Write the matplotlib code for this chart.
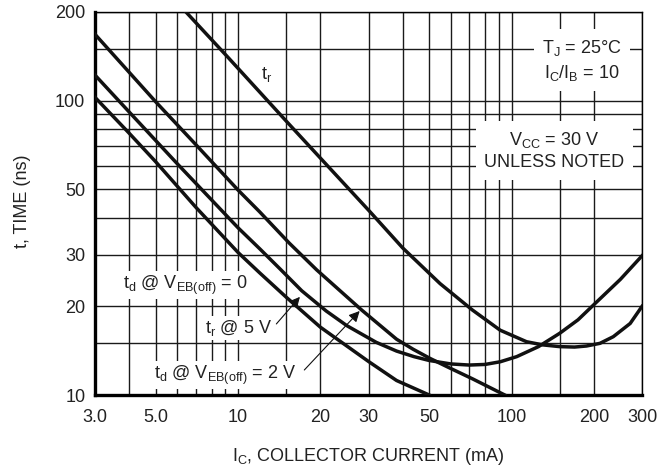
import matplotlib
matplotlib.use("Agg")
import matplotlib.pyplot as plt

plt.rcParams['font.family'] = ['Liberation Sans', 'DejaVu Sans']
plt.rcParams['mathtext.default'] = 'regular'

# curve data (IC in mA, time in ns)
tr_x = [6.44, 9.21, 15.4, 30.4, 40, 54.8, 71.9, 90.9, 113.5, 130, 150, 170, 188, 210.6, 235.6, 271.6, 300]
tr_y = [200.4, 140, 83, 41.9, 31.6, 23.9, 19.45, 16.6, 15.17, 14.8, 14.6, 14.55, 14.67, 14.98, 15.78, 17.5, 20.0]

tr5_x = [3, 4, 6, 10, 12, 14.25, 17.1, 21, 25, 32, 38, 44, 50, 60, 70, 80, 91, 104.5, 125.5, 150, 175, 197, 250, 300]
tr5_y = [122.1, 91.5, 61.0, 37.0, 31.4, 26.8, 22.6, 19.3, 17.2, 15.1, 14.1, 13.5, 13.1, 12.75, 12.64, 12.7, 12.97, 13.5, 14.6, 16.2, 18.0, 20.0, 24.7, 29.7]

td2_x = [3, 5, 7, 10, 12, 15.4, 19.4, 28.3, 38, 43.7, 50.3, 60, 72, 94.5]
td2_y = [168, 99.1, 71.0, 49.7, 41.9, 32.8, 26.6, 19.45, 15.47, 14.3, 13.32, 12.3, 11.35, 10.0]

td0_x = [3, 4, 5, 7, 10, 12, 15, 20, 30, 38, 50]
td0_y = [102.6, 77.5, 62.0, 43.5, 30.5, 26.0, 21.5, 17.0, 13.0, 11.2, 10.0]

x_ticks = [3, 5, 10, 20, 30, 50, 100, 200, 300]
x_labels = ["3.0", "5.0", "10", "20", "30", "50", "100", "200", "300"]
x_minor = [4, 6, 7, 8, 9, 15, 40, 60, 70, 80, 90, 150]
y_ticks = [10, 20, 30, 50, 100, 200]
y_labels = ["10", "20", "30", "50", "100", "200"]
y_minor = [15, 40, 60, 70, 80, 90, 150]

fig = plt.figure(figsize=(6.58, 4.71), dpi=100)
ax = fig.add_axes([95/658, 1-395/471, 547/658, 383/471])
ax.set_xscale('log')
ax.set_yscale('log')
ax.set_xlim(3, 300)
ax.set_ylim(10, 200)

ax.set_xticks(x_ticks)
ax.set_xticklabels(x_labels)
ax.set_xticks(x_minor, minor=True)
ax.set_yticks(y_ticks)
ax.set_yticklabels(y_labels)
ax.set_yticks(y_minor, minor=True)
ax.xaxis.set_minor_formatter(plt.NullFormatter())
ax.yaxis.set_minor_formatter(plt.NullFormatter())
fs = 13
tc = '#222222'
ax.tick_params(which='both', length=0, labelsize=fs, colors=tc)
ax.tick_params(axis='x', pad=10)
ax.tick_params(axis='y', pad=7)
ax.set_axisbelow(True)
ax.grid(True, which='both', color='#1a1a1a', linewidth=1.0)

for s in ['left', 'bottom']:
    ax.spines[s].set_linewidth(2.4)
for s in ['top', 'right']:
    ax.spines[s].set_linewidth(1.0)

lw = 2.5
ax.plot(tr_x, tr_y, color='#111111', lw=lw, zorder=4)
ax.plot(tr5_x, tr5_y, color='#111111', lw=lw, zorder=4)
ax.plot(td2_x, td2_y, color='#111111', lw=lw, zorder=4)
ax.plot(td0_x, td0_y, color='#111111', lw=lw, zorder=4)

box = dict(facecolor='white', edgecolor='none', pad=1.5)
ax.text(0.314, 0.836, "t$_r$", transform=ax.transAxes, fontsize=fs, color=tc,
        ha='center', va='center')
ax.text(0.890, 0.874, "T$_J$ = 25°C\nI$_C$/I$_B$ = 10", transform=ax.transAxes,
        fontsize=fs, color=tc, ha='center', va='center', multialignment='center',
        linespacing=1.35, bbox=dict(facecolor='white', edgecolor='none', pad=6), zorder=3)
ax.text(0.840, 0.638, "V$_{CC}$ = 30 V\nUNLESS NOTED", transform=ax.transAxes,
        fontsize=fs, color=tc, ha='center', va='center', multialignment='center',
        linespacing=1.35, bbox=dict(facecolor='white', edgecolor='none', pad=6), zorder=3)
ax.text(0.1655, 0.287, "t$_d$ @ V$_{EB(off)}$ = 0", transform=ax.transAxes,
        fontsize=fs, color=tc, ha='center', va='center', bbox=box, zorder=3)
ax.text(0.262, 0.175, "t$_r$ @ 5 V", transform=ax.transAxes,
        fontsize=fs, color=tc, ha='center', va='center', bbox=box, zorder=3)
ax.text(0.2377, 0.052, "t$_d$ @ V$_{EB(off)}$ = 2 V", transform=ax.transAxes,
        fontsize=fs, color=tc, ha='center', va='center', bbox=box, zorder=3)

arrow = dict(arrowstyle='-|>', color='#111111', lw=0.8, mutation_scale=16)
ax.annotate("", xy=(17.1, 21.9), xytext=(13.6, 17.15), arrowprops=arrow, zorder=5)
ax.annotate("", xy=(28.3, 19.6), xytext=(17.2, 11.97), arrowprops=arrow, zorder=5)

fig.text(0.034, 0.573, "t, TIME (ns)", rotation=90, fontsize=fs, color=tc,
         ha='center', va='center')
fig.text(0.56, 0.0219, "I$_C$, COLLECTOR CURRENT (mA)", fontsize=fs, color=tc,
         ha='center', va='baseline')

fig.savefig("out.png", dpi=100)
